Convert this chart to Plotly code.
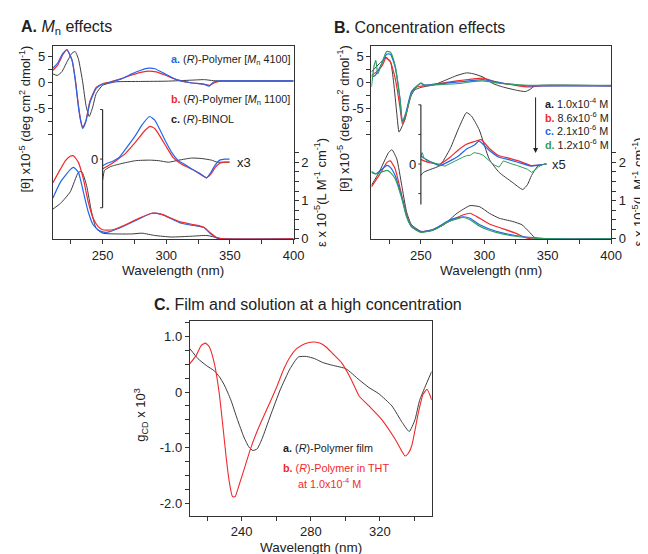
import plotly.graph_objects as go

# ---------------- data ----------------
# Panel A : CD (x10^-5 deg cm2 dmol-1)
A_cd_a_wl = [211, 215, 217, 219, 222, 226, 228.5, 231, 232.8, 234.4, 237, 240, 245, 250, 255, 265, 273, 280, 286, 291, 299, 308, 319, 330, 333.6, 337, 342.6, 350, 375, 400]
A_cd_a = [2.7, 3.8, 4.8, 5.6, 6.3, 4.2, 0.5, -4.7, -7.5, -8.9, -7.5, -4.0, -1.2, -0.4, -0.1, 0.7, 1.6, 2.3, 2.7, 2.6, 1.6, 0.5, -0.1, -0.4, -0.76, 0.0, 0.25, 0.25, 0.25, 0.25]
A_cd_b_wl = [211, 215, 217, 219, 222, 226, 228.5, 231, 232.8, 234.4, 237, 240, 245, 250, 255, 265, 273, 280, 287, 292, 299, 308, 319, 330, 334, 338, 343, 350, 375, 400]
A_cd_b = [2.3, 3.4, 4.4, 5.4, 6.2, 4.3, 0.7, -4.4, -7.3, -8.8, -7.3, -3.7, -1.0, -0.3, 0.0, 0.7, 1.4, 1.9, 2.15, 2.0, 1.4, 0.5, -0.1, -0.4, -0.6, -0.1, 0.2, 0.2, 0.2, 0.2]
A_cd_c_wl = [211, 214.4, 218, 222, 226, 228.5, 231, 234.4, 237, 239.5, 242, 245, 250, 260, 280, 300, 320, 330, 337, 345, 400]
A_cd_c = [1.6, 1.3, 2.0, 3.9, 5.6, 5.9, 4.5, 0.0, -4.5, -6.6, -5.0, -2.2, -0.6, 0.06, 0.15, 0.2, 0.4, 0.5, 0.3, 0.25, 0.25]

# Panel A : inset (x3)
A_in_a_wl = [250, 252.8, 258, 263, 268, 276, 281, 287, 291, 299.3, 304, 309.5, 314.4, 320, 326, 331.6, 335, 338, 342, 346, 349.7]
A_in_a = [-1.3, -0.9, -0.4, 0.3, 1.9, 4.6, 6.6, 8.2, 7.5, 3.5, 1.4, -0.3, -1.0, -1.9, -2.7, -3.6, -2.6, -1.3, -0.2, 0.0, 0.0]
A_in_b_wl = [250, 255, 260.5, 268, 276, 283.6, 287.4, 291.3, 299, 305.4, 311.8, 322, 331.6, 335, 338.5, 342, 346, 349.7]
A_in_b = [-1.9, -1.2, -0.3, 1.1, 3.3, 5.6, 6.3, 5.8, 2.8, 0.3, -0.95, -2.2, -3.6, -2.9, -1.6, -0.8, -0.6, -0.6]
A_in_c_wl = [250, 251.5, 255, 258, 266, 276, 287, 294, 301.7, 310, 320, 328, 335.5, 340, 345, 349.7]
A_in_c = [-4.1, -2.2, -1.6, -1.3, -0.8, -0.3, -0.2, -0.3, -0.6, -0.2, 0.2, 0.1, -0.2, -0.6, -0.6, -0.6]

# Panel A : absorption (x10^-5 L M-1 cm-1)
A_uv_a_wl = [211, 217, 224.6, 227.2, 231, 234.9, 238.7, 242.6, 247.7, 252.8, 263, 278.5, 288.7, 296.4, 311.8, 322, 329.7, 335, 340, 345, 400]
A_uv_a = [1.07, 1.49, 1.81, 1.87, 1.74, 1.23, 0.71, 0.37, 0.21, 0.17, 0.28, 0.52, 0.67, 0.64, 0.41, 0.35, 0.3, 0.13, 0.02, 0.0, 0.0]
A_uv_b_wl = [211, 217, 221, 224.6, 227.2, 231, 234.9, 238.7, 242.6, 246.4, 250, 258, 268, 278.5, 288.7, 296.4, 304, 311.8, 322, 329.7, 335, 340, 345, 400]
A_uv_b = [1.47, 1.83, 2.05, 2.16, 2.17, 2.0, 1.57, 0.97, 0.54, 0.33, 0.24, 0.24, 0.37, 0.54, 0.67, 0.64, 0.54, 0.44, 0.37, 0.3, 0.15, 0.03, 0.0, 0.0]
A_uv_c_wl = [211, 217, 224.6, 231, 233.6, 237.4, 241.3, 245, 250, 260.5, 273, 281, 291, 304, 319.5, 332, 340, 345, 400]
A_uv_c = [0.78, 0.93, 1.23, 1.74, 1.76, 1.40, 0.71, 0.27, 0.15, 0.13, 0.13, 0.15, 0.09, 0.05, 0.07, 0.09, 0.03, 0.0, 0.0]

# Panel B : CD
B_cd_a_wl = [211, 217, 222.5, 226, 228.5, 231, 232.8, 235, 237.4, 241.3, 245, 250, 260.5, 268, 278.5, 286, 291, 299, 306.7, 314.4, 324.6, 332.3, 336, 340, 400]
B_cd_a = [2.0, 3.5, 4.8, 4.0, 0.0, -6.0, -9.6, -8.6, -7.2, -3.1, -1.5, -1.0, -0.5, 0.25, 1.3, 1.8, 1.65, 1.0, -0.25, -0.9, -1.5, -1.8, -1.4, -0.7, -0.7]
B_cd_b_wl = [211, 215, 219.5, 222.5, 226, 229, 231, 233.6, 235.4, 238, 242.6, 246, 250, 260, 278.5, 290, 299, 309, 324.6, 335, 345, 400]
B_cd_b = [1.3, 2.0, 3.2, 4.7, 3.9, 1.5, -0.9, -5.0, -8.0, -6.6, -2.2, -1.0, -0.76, -0.4, 0.25, 0.6, 0.8, 0.06, -0.6, -0.9, -0.7, -0.7]
B_cd_c_wl = [211, 214, 218, 223, 226, 229.7, 233.6, 235.4, 238, 242.6, 247.7, 250, 253, 260, 280, 299, 313, 335, 345, 400]
B_cd_c = [1.0, 1.3, 3.0, 5.4, 5.4, 2.9, -3.4, -7.5, -6.0, -1.8, -0.57, -0.25, -0.57, -0.4, 0.06, 0.5, -0.1, -0.7, -0.7, -0.7]
B_cd_d_wl = [211, 213, 214.5, 216, 219, 223, 226, 229.7, 233.6, 235.4, 238, 242.6, 247.7, 250, 253, 260, 280, 290, 299, 313, 328, 335, 345, 400]
B_cd_d = [-0.9, 3.0, 4.2, 1.6, 3.5, 5.9, 5.8, 3.2, -3.4, -7.6, -6.3, -2.2, -0.57, -0.1, -0.6, -0.5, -0.25, 0.1, 0.25, -0.25, -0.5, -0.6, -0.6, -0.6]

# Panel B : inset (x5)
B_in_a_wl = [250, 252, 258, 265, 273, 280, 286, 290, 296, 304, 311.7, 322, 330.3, 334, 337.3, 342.5, 349]
B_in_a = [-2.2, -1.6, -1.0, -0.3, 2.9, 7.0, 9.9, 9.2, 6.6, 0.9, -1.6, -3.5, -4.9, -4.0, -2.2, -0.3, 0.0]
B_in_b_wl = [250, 252.5, 258, 265, 273, 280, 286, 292, 297.5, 304, 311.7, 320, 327, 337, 343, 349]
B_in_b = [0.9, 0.6, 0.2, 0.0, 1.3, 2.8, 3.8, 4.3, 4.7, 3.0, 1.6, 1.1, 0.6, -0.3, -0.2, 0.0]
B_in_c_wl = [250, 252.5, 258, 265, 273, 280, 286, 292, 296, 304, 311.7, 320, 327, 337, 343, 349]
B_in_c = [1.6, 1.1, 0.4, -0.3, 0.6, 1.6, 2.9, 3.6, 4.4, 2.6, 1.3, 0.8, 0.3, -0.4, -0.2, 0.0]
B_in_d_wl = [250, 251, 252.5, 254.6, 258, 262, 265, 269, 272, 276, 280, 283, 286, 289, 292, 296, 299, 302, 305, 308, 311.7, 315, 318, 322, 326, 330, 334, 337.3, 340, 343, 346, 349]
B_in_d = [1.5, 2.2, 1.2, 0.6, 0.4, 0.0, -0.2, -0.4, 0.0, 0.5, 1.0, 1.3, 1.6, 1.7, 2.2, 2.0, 1.7, 1.0, 0.4, -0.2, -0.6, 0.6, 0.3, 0.0, -0.3, -0.6, -1.0, -1.6, -1.2, -0.5, -0.1, 0.0]

# Panel B : absorption
B_uv_a_wl = [211, 217, 224.6, 227.2, 231, 234.9, 238.7, 242.6, 250, 258, 268, 278.5, 288.7, 296.4, 304, 311.8, 322, 329.7, 335, 340, 345, 400]
B_uv_a = [1.4, 1.74, 2.26, 2.33, 2.09, 1.4, 0.71, 0.37, 0.2, 0.21, 0.37, 0.67, 0.87, 0.84, 0.67, 0.54, 0.46, 0.37, 0.2, 0.03, 0.0, 0.0]
B_uv_b_wl = [211, 217, 223.3, 225.9, 229.7, 234.9, 238.7, 242.6, 250, 260.5, 273, 283.6, 288.7, 296.4, 304, 314.4, 324.6, 332, 337, 400]
B_uv_b = [1.36, 1.66, 2.0, 2.04, 1.83, 1.14, 0.63, 0.33, 0.18, 0.26, 0.47, 0.63, 0.67, 0.54, 0.39, 0.27, 0.15, 0.04, 0.0, 0.0]
B_uv_c_wl = [211, 214.4, 223.3, 225.9, 229.7, 234.9, 238.7, 242.6, 250, 260.5, 273, 283.6, 288.7, 296.4, 309.3, 324.6, 340, 355, 400]
B_uv_c = [1.76, 1.7, 1.92, 1.87, 1.66, 1.1, 0.61, 0.33, 0.18, 0.26, 0.5, 0.58, 0.54, 0.37, 0.2, 0.09, 0.03, 0.0, 0.0]
B_uv_d_wl = [211, 214.4, 223.3, 225.9, 229.7, 234.9, 238.7, 242.6, 250, 260.5, 273, 283.6, 288.7, 296.4, 309.3, 324.6, 340, 355, 400]
B_uv_d = [1.74, 1.7, 1.79, 1.74, 1.57, 1.06, 0.58, 0.32, 0.17, 0.24, 0.47, 0.56, 0.5, 0.33, 0.17, 0.07, 0.02, 0.0, 0.0]

# Panel C : g_CD x 10^3
C_a_wl = [210, 214.7, 219.4, 224.2, 227, 229.9, 233.7, 237.5, 241.3, 244.2, 246.5, 249, 251.8, 256.6, 262.3, 268, 272.8, 277.5, 282.3, 287, 292.7, 300.3, 308, 313.7, 319.4, 327, 333, 337, 340.3, 343, 346, 350]
C_a = [0.78, 0.60, 0.48, 0.38, 0.28, 0.13, -0.14, -0.49, -0.81, -0.99, -1.05, -1.02, -0.84, -0.43, 0.04, 0.42, 0.63, 0.64, 0.60, 0.53, 0.48, 0.42, 0.22, 0.08, -0.03, -0.25, -0.55, -0.71, -0.50, -0.15, 0.08, 0.37]
C_b_wl = [210, 213.7, 216.6, 219, 221.3, 224.2, 227, 228.9, 230.9, 232.8, 234.7, 236.2, 238.5, 241.3, 245.1, 249, 252.8, 256.6, 260.4, 264.2, 268, 271.8, 276.6, 281.3, 285.1, 288.9, 292.7, 298, 303.2, 308, 313.7, 321, 328.7, 332.5, 334.6, 336.5, 338.5, 342.3, 345, 347.3, 350]
C_b = [0.51, 0.66, 0.84, 0.88, 0.81, 0.51, -0.02, -0.55, -1.14, -1.61, -1.88, -1.88, -1.67, -1.40, -1.02, -0.70, -0.43, -0.17, 0.10, 0.40, 0.63, 0.78, 0.87, 0.90, 0.88, 0.81, 0.69, 0.52, 0.24, -0.07, -0.25, -0.49, -0.84, -1.05, -1.15, -1.10, -0.96, -0.37, -0.04, 0.05, -0.14]

# tick values / labels
AB_xticks = [250, 300, 350, 400]
AB_xminor = [225, 275, 325, 375]
CD_ticks = [5, 0, -5]
CD_ticklabels = ["5", "0", "-5"]
CD_minor = [2.5, -2.5, -7.5, -10]
UV_ticks = [0, 1, 2]
UV_minor = [0.25, 0.5, 0.75, 1.25, 1.5, 1.75, 2.25]
C_xticks = [240, 280, 320]
C_xminor = [220, 260, 300, 340]
C_yticks = [1.0, 0, -1.0, -2.0]
C_yticklabels = ["1.0", "0", "-1.0", "-2.0"]
C_yminor = [1.25, 0.75, 0.5, 0.25, -0.25, -0.5, -0.75, -1.25, -1.5, -1.75, -2.25]
A_bar_ticks = [9.54, 0, -9.37]
B_bar_ticks = [11.4, 5.69, 0, -5.69]

# ---------------- style ----------------
FONT = "Liberation Sans, Arial, Helvetica, sans-serif"
TXT = "#222222"
AX = "#333333"
BLUE = "#2266ee"
RED = "#f02a2a"
BLACK = "#3c3c3c"
GREEN = "#2f9e5f"
W, H = 648, 554


def px(xp):
    return xp / W


def py(yp):
    return 1 - yp / H


fig = go.Figure()


def add(xs, ys, color, xa, ya, width=1.2, shape="spline"):
    fig.add_trace(go.Scatter(x=xs, y=ys, mode="lines", xaxis=xa, yaxis=ya,
                             line=dict(color=color, width=width, shape=shape, smoothing=0.5),
                             hoverinfo="skip", showlegend=False))


# Panel A
add(A_cd_c_wl, A_cd_c, BLACK, "x", "y", 1.0)
add(A_cd_b_wl, A_cd_b, RED, "x", "y")
add(A_cd_a_wl, A_cd_a, BLUE, "x", "y")
add(A_uv_c_wl, A_uv_c, BLACK, "x", "y2", 1.0)
add(A_uv_a_wl, A_uv_a, BLUE, "x", "y2")
add(A_uv_b_wl, A_uv_b, RED, "x", "y2")
add(A_in_c_wl, A_in_c, BLACK, "x", "y3", 1.0)
add(A_in_b_wl, A_in_b, RED, "x", "y3")
add(A_in_a_wl, A_in_a, BLUE, "x", "y3")

# Panel B
add(B_cd_a_wl, B_cd_a, BLACK, "x2", "y4", 1.0)
add(B_cd_b_wl, B_cd_b, RED, "x2", "y4")
add(B_cd_c_wl, B_cd_c, BLUE, "x2", "y4")
add(B_cd_d_wl, B_cd_d, GREEN, "x2", "y4")
add(B_uv_a_wl, B_uv_a, BLACK, "x2", "y5", 1.0)
add(B_uv_b_wl, B_uv_b, RED, "x2", "y5")
add(B_uv_c_wl, B_uv_c, BLUE, "x2", "y5")
add(B_uv_d_wl, B_uv_d, GREEN, "x2", "y5")
add(B_in_a_wl, B_in_a, BLACK, "x2", "y6", 1.0)
add(B_in_b_wl, B_in_b, RED, "x2", "y6")
add(B_in_c_wl, B_in_c, BLUE, "x2", "y6")
add(B_in_d_wl, B_in_d, GREEN, "x2", "y6", 1.0, "linear")

# Panel C
add(C_a_wl, C_a, BLACK, "x3", "y7", 1.0)
add(C_b_wl, C_b, RED, "x3", "y7", 1.1)

tickfont = dict(family=FONT, size=13, color=TXT)


def xaxis(domain, rng, tv, minor, anchor):
    return dict(domain=domain, range=rng, anchor=anchor, showline=True, linecolor=AX, linewidth=1.2,
                mirror=True, ticks="outside", ticklen=4, tickcolor=AX, tickwidth=1,
                tickvals=tv, ticktext=[str(v) for v in tv], tickfont=tickfont, showgrid=False,
                zeroline=False, minor=dict(tickvals=minor, ticks="outside", ticklen=4, tickcolor=AX, showgrid=False))


def yaxis(domain, rng, tv, tt, minor, anchor, side="left", mirror=True):
    return dict(domain=domain, range=rng, anchor=anchor, side=side, showline=True, linecolor=AX,
                linewidth=1.2, mirror=mirror, ticks="outside", ticklen=4, tickcolor=AX, tickwidth=1,
                tickvals=tv, ticktext=tt, tickfont=tickfont, showgrid=False, zeroline=False,
                minor=dict(tickvals=minor, ticks="outside", ticklen=4, tickcolor=AX, showgrid=False))


domA = [px(45.7), px(290.5)]
domB = [px(369.7), px(613.5)]
domAB_y = [py(234.3), py(39)]
domC = [px(185), px(431)]
domC_y = [py(515), py(318)]

fig.update_layout(
    width=W, height=H, autosize=False, margin=dict(l=0, r=0, t=0, b=0),
    paper_bgcolor="white", plot_bgcolor="rgba(0,0,0,0)",
    font=dict(family=FONT, color=TXT),
    xaxis=xaxis(domA, [211, 400], AB_xticks, AB_xminor, "y"),
    yaxis=yaxis(domAB_y, [-30.17, 6.89], CD_ticks, CD_ticklabels, CD_minor, "x"),
    yaxis2=yaxis(domAB_y, [0, 5.03], UV_ticks, [str(v) for v in UV_ticks], UV_minor, "x", "right", False),
    yaxis3=dict(domain=domAB_y, range=[-15.37, 21.69], anchor="x", overlaying="y", visible=False),
    xaxis2=xaxis(domB, [211, 400], AB_xticks, AB_xminor, "y4"),
    yaxis4=yaxis(domAB_y, [-30.17, 6.89], CD_ticks, CD_ticklabels, CD_minor, "x2"),
    yaxis5=yaxis(domAB_y, [0, 5.03], UV_ticks, [str(v) for v in UV_ticks], UV_minor, "x2", "right", False),
    yaxis6=dict(domain=domAB_y, range=[-14.42, 22.64], anchor="x2", overlaying="y4", visible=False),
    xaxis3=xaxis(domC, [210, 350], C_xticks, C_xminor, "y7"),
    yaxis7=yaxis(domC_y, [-2.22, 1.27], C_yticks, C_yticklabels, C_yminor, "x3"),
)
fig.layout.yaxis2.overlaying = "y"
fig.layout.yaxis5.overlaying = "y4"

# inset scale bars with ticks
fig.add_shape(type="line", xref="x", yref="y3", x0=250, x1=250, y0=-9.37, y1=9.54,
              line=dict(color=AX, width=1.2))
for t in A_bar_ticks:
    fig.add_shape(type="line", xref="x", yref="y3", x0=250, x1=248, y0=t, y1=t, line=dict(color=AX, width=1))
fig.add_shape(type="line", xref="x2", yref="y6", x0=250, x1=250, y0=-7.8, y1=11.4,
              line=dict(color=AX, width=1.2))
for t in B_bar_ticks:
    fig.add_shape(type="line", xref="x2", yref="y6", x0=250, x1=248, y0=t, y1=t, line=dict(color=AX, width=1))

ann = []


def text(x, y, s, size=13, xanchor="left", yanchor="middle", angle=0, **kw):
    d = dict(x=x, y=y, text=s, showarrow=False, xanchor=xanchor, yanchor=yanchor, textangle=angle,
             font=dict(family=FONT, size=size, color=TXT))
    if "xref" not in kw:
        d["xref"] = "paper"
        d["yref"] = "paper"
    d.update(kw)
    ann.append(d)


# titles
text(px(11), py(20), "<b>A.</b> <i>M</i><sub>n</sub> effects", 16)
text(px(330), py(20), "<b>B.</b> Concentration effects", 16)
text(px(146), py(301), "<b>C.</b> Film and solution at a high concentration", 16)

# axis titles
ytitle = "[θ] x10<sup>-5</sup> (deg cm<sup>2</sup> dmol<sup>-1</sup>)"
etitle = "ε x 10<sup>-5</sup>(L M<sup>-1</sup> cm<sup>-1</sup>)"
text(px(17), py(112.5), ytitle, 13, "center", "middle", -90)
text(px(318), py(187), etitle, 13, "center", "middle", -90)
text(px(341), py(112.5), ytitle, 13, "center", "middle", -90)
text(px(641), py(187), etitle, 13, "center", "middle", -90)
text(px(168), py(266), "Wavelength (nm)", 13.5, "center")
text(px(491.5), py(266), "Wavelength (nm)", 13.5, "center")
text(px(308), py(547), "Wavelength (nm)", 13.5, "center")
text(px(135), py(413), "g<sub>CD</sub> x 10<sup>3</sup>", 13, "center", "middle", -90)

# inset labels
text(250, 0, "0", 13, "right", "middle", xref="x", yref="y3", xshift=-3)
text(354, -0.6, "x3", 13, "left", "middle", xref="x", yref="y3")
text(250, 0, "0", 13, "right", "middle", xref="x2", yref="y6", xshift=-3)
text(352, 0, "x5", 13, "left", "middle", xref="x2", yref="y6")

# legends A
LS = 10.8
text(px(164), py(52.3), f"<span style='color:{BLUE}'><b>a.</b></span> (<i>R</i>)-Polymer [<i>M</i><sub>n</sub> 4100]", LS)
text(px(164), py(93.3), f"<span style='color:{RED}'><b>b.</b></span> (<i>R</i>)-Polymer [<i>M</i><sub>n</sub> 1100]", LS)
text(px(164), py(112.3), "<b>c.</b> (<i>R</i>)-BINOL", LS)

# legends B
text(px(544), py(96.5), "<b>a.</b> 1.0x10<sup>-4</sup> M", LS)
text(px(544), py(110.2), f"<span style='color:{RED}'><b>b.</b></span> 8.6x10<sup>-6</sup> M", LS)
text(px(544), py(123.9), f"<span style='color:{BLUE}'><b>c.</b></span> 2.1x10<sup>-6</sup> M", LS)
text(px(544), py(137.6), f"<span style='color:{GREEN}'><b>d.</b></span> 1.2x10<sup>-6</sup> M", LS)
ann.append(dict(x=px(536.7), y=py(147), xref="paper", yref="paper", ax=0, ay=-57, text="",
                showarrow=True, arrowhead=2, arrowsize=1, arrowwidth=1, arrowcolor=TXT))

# legends C
text(px(278), py(446.7), "<b>a.</b> (<i>R</i>)-Polymer film", LS)
text(px(278), py(466.5), "<b>b.</b> (<i>R</i>)-Polymer in THT", LS, font=dict(family=FONT, size=LS, color=RED))
text(px(293), py(482.3), "at 1.0x10<sup>-4</sup> M", LS, font=dict(family=FONT, size=LS, color=RED))

fig.update_layout(annotations=ann)
fig.write_html("out.html")
